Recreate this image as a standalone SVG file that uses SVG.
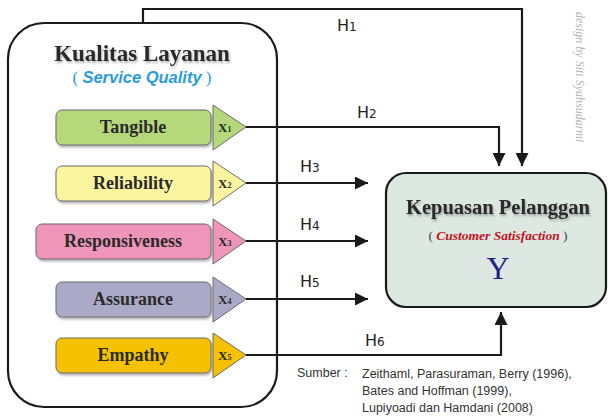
<svg xmlns="http://www.w3.org/2000/svg" width="608" height="416" viewBox="0 0 608 416">
<defs>
<marker id="ahb" viewBox="0 0 12 12" refX="12" refY="6" markerWidth="13" markerHeight="13" markerUnits="userSpaceOnUse" orient="auto">
<path d="M0,0 L12,6 L0,12 Z" fill="#1a1a1a"/>
</marker>
<filter id="sh" x="-10%" y="-20%" width="130%" height="150%">
<feDropShadow dx="1" dy="2" stdDeviation="1.2" flood-color="#000" flood-opacity="0.3"/>
</filter>
</defs>
<style>
.box{stroke:#6a6a6a;stroke-width:1}
.lbl{font-family:"Liberation Serif","DejaVu Serif",serif;font-size:18px;font-weight:bold;fill:#2a2a2a;text-anchor:middle}
.xl{font-family:"Liberation Serif","DejaVu Serif",serif;font-size:13px;font-weight:bold;fill:#2a2a2a}
.conn{fill:none;stroke:#1a1a1a;stroke-width:2.2}
.h{font-family:"DejaVu Sans","Liberation Sans",sans-serif;font-size:16px;fill:#222}
.src{font-family:"Liberation Sans","DejaVu Sans",sans-serif;font-size:12.5px;fill:#333}
</style>
<rect width="608" height="416" fill="#fff"/>

<g id="kualitas">
<rect x="8" y="23" width="269" height="384" rx="36" fill="none" stroke="#1a1a1a" stroke-width="2.2"/>
<text x="142" y="61" font-family="Liberation Serif, DejaVu Serif, serif" font-size="23" font-weight="bold" fill="#2a2a2a" text-anchor="middle" filter="url(#sh)">Kualitas Layanan</text>
<text x="142" y="83" font-family="Liberation Serif, DejaVu Serif, serif" font-size="17" fill="#2b9be0" text-anchor="middle">( <tspan font-style="italic" font-weight="bold" font-family="Liberation Sans, DejaVu Sans, sans-serif" font-size="16.5">Service Quality</tspan> )</text>
</g>

<g id="tangible">
<rect class="box" x="56" y="110" width="155" height="35" rx="6" fill="#b4d87a" filter="url(#sh)"/>
<polygon class="box" points="213,105 246,127 213,150" fill="#b4d87a"/>
<text class="lbl" x="133" y="133">Tangible</text>
<text class="xl" x="218" y="132">X<tspan font-size="8">1</tspan></text>
</g>
<g id="reliability">
<rect class="box" x="56" y="166" width="155" height="35" rx="6" fill="#fcf5a0" filter="url(#sh)"/>
<polygon class="box" points="213,161 246,183 213,206" fill="#fcf5a0"/>
<text class="lbl" x="133" y="189">Reliability</text>
<text class="xl" x="218" y="188">X<tspan font-size="8">2</tspan></text>
</g>
<g id="responsiveness">
<rect class="box" x="36" y="224" width="175" height="35" rx="6" fill="#ee95b9" filter="url(#sh)"/>
<polygon class="box" points="213,219 246,241 213,264" fill="#ee95b9"/>
<text class="lbl" x="123" y="247">Responsiveness</text>
<text class="xl" x="218" y="246">X<tspan font-size="8">3</tspan></text>
</g>
<g id="assurance">
<rect class="box" x="56" y="282" width="155" height="35" rx="6" fill="#aaaac8" filter="url(#sh)"/>
<polygon class="box" points="213,277 246,299 213,322" fill="#aaaac8"/>
<text class="lbl" x="133" y="305">Assurance</text>
<text class="xl" x="218" y="304">X<tspan font-size="8">4</tspan></text>
</g>
<g id="empathy">
<rect class="box" x="56" y="338" width="155" height="35" rx="6" fill="#f6c200" filter="url(#sh)"/>
<polygon class="box" points="213,333 246,355 213,378" fill="#f6c200"/>
<text class="lbl" x="133" y="361">Empathy</text>
<text class="xl" x="218" y="360">X<tspan font-size="8">5</tspan></text>
</g>

<g id="kepuasan">
<rect x="386" y="173" width="220" height="134" rx="20" fill="#dde8e3" stroke="#1a1a1a" stroke-width="2.2"/>
<text x="498" y="214" font-family="Liberation Serif, DejaVu Serif, serif" font-size="20.5" font-weight="bold" fill="#2a2a2a" text-anchor="middle" filter="url(#sh)">Kepuasan Pelanggan</text>
<text x="498" y="240" font-family="Liberation Serif, DejaVu Serif, serif" font-size="13.5" fill="#444" text-anchor="middle">( <tspan font-style="italic" font-weight="bold" fill="#c0141c">Customer Satisfaction</tspan> )</text>
<text x="498" y="279" font-family="Liberation Serif, DejaVu Serif, serif" font-size="32" fill="#1e1e8a" text-anchor="middle">Y</text>
</g>

<g id="connectors">
<path class="conn" d="M143,23 V9 H522 V166" marker-end="url(#ahb)"/>
<path class="conn" d="M246,127 H499 V166" marker-end="url(#ahb)"/>
<path class="conn" d="M246,183 H368" marker-end="url(#ahb)"/>
<path class="conn" d="M246,241 H368" marker-end="url(#ahb)"/>
<path class="conn" d="M246,299 H368" marker-end="url(#ahb)"/>
<path class="conn" d="M246,355 H501 V312" marker-end="url(#ahb)"/>
<text class="h" x="337" y="31">H<tspan font-size="12">1</tspan></text>
<text class="h" x="357" y="118">H<tspan font-size="12">2</tspan></text>
<text class="h" x="300" y="172">H<tspan font-size="12">3</tspan></text>
<text class="h" x="300" y="230">H<tspan font-size="12">4</tspan></text>
<text class="h" x="300" y="287">H<tspan font-size="12">5</tspan></text>
<text class="h" x="365" y="346">H<tspan font-size="12">6</tspan></text>
</g>

<g id="sumber">
<text class="src" x="297" y="377">Sumber :</text>
<text class="src" x="362" y="378">Zeithaml, Parasuraman, Berry (1996),</text>
<text class="src" x="362" y="395">Bates and Hoffman (1999),</text>
<text class="src" x="362" y="412">Lupiyoadi dan Hamdani (2008)</text>
</g>

<text transform="translate(576,12) rotate(90)" font-family="Liberation Serif, DejaVu Serif, serif" font-style="italic" font-size="12" fill="#b4b4b4">design by Siti Syahsudarmi</text>
</svg>
